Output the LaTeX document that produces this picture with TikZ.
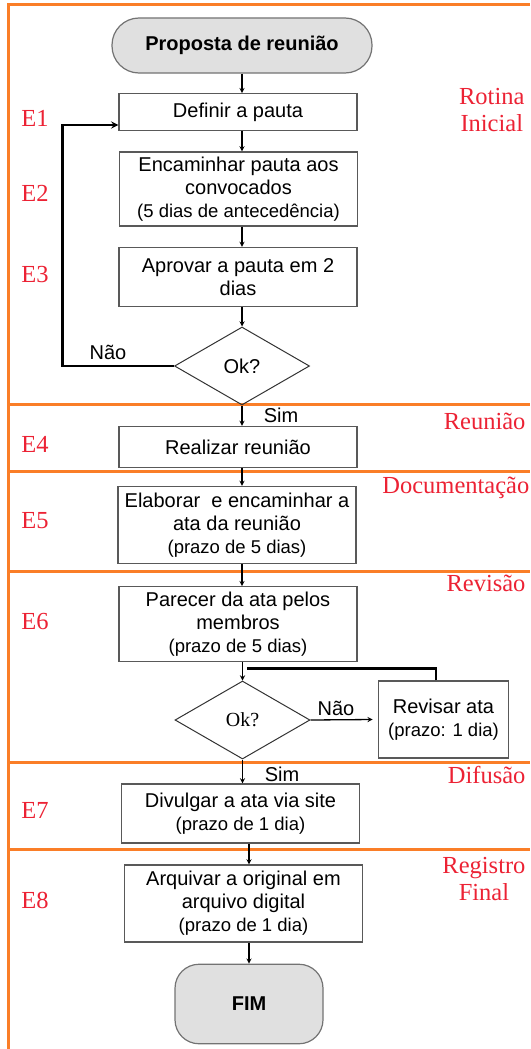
\documentclass[tikz,border=0pt]{standalone}
\usepackage{fontspec}
\setmainfont{Liberation Serif}
\setsansfont{Liberation Sans}
\usetikzlibrary{shapes.geometric,positioning}
\definecolor{laranja}{RGB}{250,126,40}
\definecolor{vermelho}{RGB}{236,34,52}
\newcommand{\pz}{\fontsize{18.5}{21}\selectfont}

\begin{document}
\begin{tikzpicture}[x=1pt,y=-1pt,>=stealth,
caixa/.style = {draw=black!65, line width=1.2pt, minimum width=238pt, inner sep=0pt, align=center, font=\sffamily\fontsize{20}{23}\selectfont},
term/.style = {draw=black!55, fill=black!12, line width=1.2pt, inner sep=0pt, font=\sffamily\bfseries\fontsize{20}{24}\selectfont},
decisao/.style = {draw=black!80, diamond, line width=1pt, minimum width=135pt, minimum height=78pt, inner sep=0pt},
seta/.style = {->, line width=1.3pt},
volta/.style = {line width=2.2pt},
faixa/.style = {draw=laranja, line width=3pt},
etapa/.style = {text=vermelho, font=\fontsize{24.5}{27}\selectfont},
rotulo/.style = {font=\sffamily\fontsize{20}{24}\selectfont},]
\useasboundingbox (0,0) rectangle (530,1049);
\draw[faixa] (530,5) -| (8.5,1049);
\draw[faixa] (8.5,404) -- (530,404);
\draw[faixa] (8.5,471.5) -- (530,471.5);
\draw[faixa] (8.5,571) -- (530,571);
\draw[faixa] (8.5,762.5) -- (530,762.5);
\draw[faixa] (8.5,849) -- (530,849);
\node (ini) at (242,45.5)[term, minimum width=260pt, minimum height=55pt, rounded corners=27pt] {Proposta de reunião};
\node (e1) at (238,112)[caixa, minimum height=36.5pt] {Definir a pauta};
\node (e2) at (238.5,189)[caixa, minimum height=74pt] {Encaminhar pauta aos\\convocados\\\pz(5 dias de antecedência)};
\node (e3) at (238,277)[caixa, minimum height=59pt] {Aprovar a pauta em 2\\dias};
\node (ok1) at (242,366)[decisao, font=\sffamily\fontsize{20}{24}\selectfont] {Ok?};
\node (e4) at (238,447)[caixa, minimum height=41pt] {Realizar reunião};
\node (e5) at (237,525)[caixa, minimum height=77pt] {Elaborar~ e encaminhar a\\ata da reunião\\\pz(prazo de 5 dias)};
\node (e6) at (238,624)[caixa, minimum height=74.5pt] {Parecer da ata pelos\\membros\\\pz(prazo de 5 dias)};
\node (ok2) at (242.5,720)[decisao, font=\fontsize{20}{24}\selectfont] {Ok?};
\node (rev) at (443.5,719.5)[caixa, minimum width=130.5pt, minimum height=77pt] {Revisar ata\\\pz(prazo: 1 dia)};
\node (e7) at (240.5,813.5)[caixa, minimum height=59pt] {Divulgar a ata via site\\\pz(prazo de 1 dia)};
\node (e8) at (243.5,903.5)[caixa, minimum height=77pt] {Arquivar a original em\\arquivo digital\\\pz(prazo de 1 dia)};
\node (fim) at (249,1004)[term, minimum width=148pt, minimum height=79.5pt, rounded corners=24pt] {FIM};
\node (nao1) at (108,352)[rotulo] {Não};
\node (sim1) at (281,415)[rotulo] {Sim};
\node (nao2) at (336,708)[rotulo] {Não};
\node (sim2) at (282,774)[rotulo] {Sim};
\coordinate (canto) at (62.5,366);
\coordinate (jun) at (247,668.5);
\draw[seta] (ini.south) -- (ini.south |- e1.north);
\draw[seta] (e1.south -| ini) -- (e2.north -| ini);
\draw[seta] (e2.south -| ini) -- (e3.north -| ini);
\draw[seta] (e3.south -| ok1) -- (ok1.north);
\draw[volta,->] (ok1.west) -- (canto) |- ([yshift=-13pt]e1.west);
\draw[seta] (ok1.south) -- (ok1.south |- e4.north);
\draw[seta] (e4.south -| ok1) -- (e5.north -| ok1);
\draw[seta] (e5.south -| ok1) -- (e6.north -| ok1);
\draw[seta] (e6.south -| ok2) -- (ok2.north);
\draw[seta] (ok2.east) -- ([xshift=-5pt]rev.west);
\draw[volta] ([xshift=-7.5pt]rev.north) |- (jun);
\draw[seta] (ok2.south) -- (ok2.south |- e7.north);
\draw[seta] (e7.south -| fim) -- (e8.north -| fim);
\draw[seta] (e8.south -| fim) -- (fim.north);
\node (E1) at (35,118)[etapa] {E1};
\node (E2) at (35,193)[etapa] {E2};
\node (E3) at (35,275)[etapa] {E3};
\node (E4) at (35,444)[etapa] {E4};
\node (E5) at (35,521)[etapa] {E5};
\node (E6) at (35,622)[etapa] {E6};
\node (E7) at (35,810)[etapa] {E7};
\node (E8) at (35,900)[etapa] {E8};
\node (rotina) at (528,110)[etapa, anchor=east, align=center] {Rotina\\Inicial};
\node (reuniao) at (529,421)[etapa, anchor=east] {Reunião};
\node (document) at (529.5,488)[etapa, anchor=east, inner xsep=0pt] {Documentação};
\node (revisao) at (529,583)[etapa, anchor=east] {Revisão};
\node (difusao) at (529,775)[etapa, anchor=east] {Difusão};
\node (registro) at (529,879)[etapa, anchor=east, align=center] {Registro\\Final};
\end{tikzpicture}
\end{document}
